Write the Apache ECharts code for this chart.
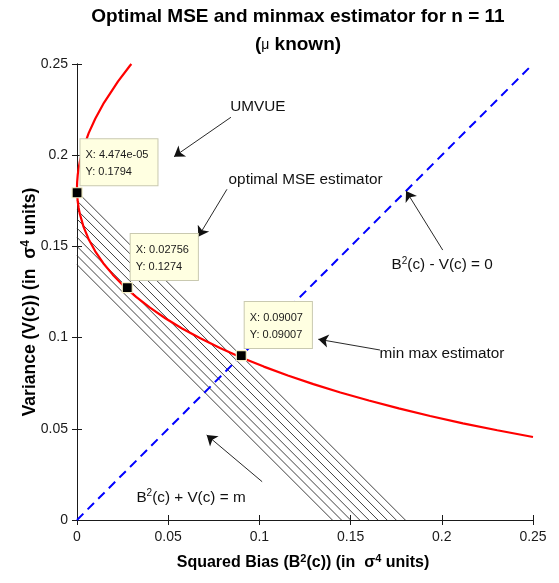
<!DOCTYPE html>
<html>
<head>
<meta charset="utf-8">
<script src="https://cdn.jsdelivr.net/npm/echarts@6/dist/echarts.min.js"></script>
<style>
  html, body { margin: 0; padding: 0; background: #fff; }
  #chart { width: 559px; height: 583px; }
</style>
</head>
<body>
<div id="chart"></div>
<script>
// Squared bias / variance trade-off of c * sum (X - mu)^2, n = 11
const curveBias = [0.0298, 0.0289, 0.0225, 0.0144, 0.0100, 0.0064, 0.0036, 0.0016, 0.0009, 0.0004, 0.0001, 0.000025, 0,
  0.000025, 0.0001, 0.0004, 0.0009, 0.0016, 0.0036, 0.0064, 0.0100, 0.0144, 0.0196, 0.0256, 0.0324, 0.0400,
  0.0484, 0.0576, 0.0676, 0.0784, 0.0900, 0.1024, 0.1156, 0.1296, 0.1444, 0.1600, 0.1764, 0.1936, 0.2116, 0.2304, 0.2500];
const curveVar = [0.2500, 0.2489, 0.2405, 0.2281, 0.2200, 0.2121, 0.2043, 0.1967, 0.1929, 0.1892, 0.1855, 0.1836, 0.1818,
  0.1800, 0.1782, 0.1746, 0.1711, 0.1676, 0.1607, 0.1539, 0.1473, 0.1408, 0.1345, 0.1283, 0.1223, 0.1164,
  0.1106, 0.1050, 0.0996, 0.0943, 0.0891, 0.0841, 0.0792, 0.0745, 0.0699, 0.0655, 0.0612, 0.0570, 0.0530, 0.0492, 0.0455];

// Level lines B^2 + V = m
const levelM = [0.14, 0.145, 0.15, 0.155, 0.16, 0.165, 0.17, 0.175, 0.18];

// B^2 - V = 0 diagonal end points
const diagEnds = [0, 0.25];

// Data tips: UMVUE, optimal MSE, min max
const tipX = [4.474e-05, 0.02756, 0.09007];
const tipY = [0.1794, 0.1274, 0.09007];

// Axis ticks
const axisMin = 0, axisMax = 0.25, axisStep = 0.05;

// Annotation texts (centre positions in data units)
const noteText = ['UMVUE', 'optimal MSE estimator', '{n|B}{s|2}{n|(c) - V(c) = 0}', 'min max estimator', '{n|B}{s|2}{n|(c) + V(c) = m}'];
const noteX = [0.0992, 0.1253, 0.2002, 0.2001, 0.0625];
const noteY = [0.2267, 0.1868, 0.1398, 0.0913, 0.0124];

// Annotation arrows: tail -> head (data units)
const arrowFromX = [0.0844, 0.0822, 0.2005, 0.1661, 0.1015];
const arrowFromY = [0.2208, 0.1813, 0.1480, 0.0932, 0.0210];
const arrowToX = [0.0532, 0.0665, 0.1804, 0.1323, 0.0711];
const arrowToY = [0.1992, 0.1553, 0.1804, 0.0991, 0.0466];

const FONT = '"Liberation Sans", Arial, Helvetica, sans-serif';

function fmtTip(v) {
  if (v !== 0 && Math.abs(v) < 1e-4) {
    return v.toExponential(3).replace(/e([+-])(\d)$/, 'e$10$2');
  }
  return String(v);
}

const chart = echarts.init(document.getElementById('chart'), null, { renderer: 'canvas' });

const axisCommon = {
  type: 'value', min: axisMin, max: axisMax, interval: axisStep,
  splitLine: { show: false },
  axisLine: { show: true, lineStyle: { color: '#1a1a1a', width: 1 } },
  axisTick: { show: true, inside: true, length: 5, lineStyle: { color: '#1a1a1a', width: 1 } }
};
const tickLabel = { color: '#1a1a1a', fontFamily: FONT, fontSize: 14 };

const series = [];

levelM.forEach(function (m) {
  series.push({
    type: 'line', xAxisIndex: 0, yAxisIndex: 0, symbol: 'none', silent: true,
    data: [[0, m], [m, 0]],
    lineStyle: { color: '#2a2a2a', width: 0.9 },
    z: 2
  });
});

series.push({
  type: 'line', name: 'curve', xAxisIndex: 0, yAxisIndex: 0, symbol: 'none', silent: true,
  data: curveBias.map(function (b, i) { return [b, curveVar[i]]; }),
  lineStyle: { color: '#ff0000', width: 2.2 },
  z: 3
});

series.push({
  type: 'line', name: 'diag', xAxisIndex: 0, yAxisIndex: 0, symbol: 'none', silent: true,
  data: diagEnds.map(function (v) { return [v, v]; }),
  lineStyle: { color: '#0000ff', width: 2, type: [9, 6] },
  z: 4
});

series.push({
  type: 'lines', coordinateSystem: 'cartesian2d', xAxisIndex: 0, yAxisIndex: 0, silent: true,
  symbol: ['none', 'arrow'], symbolSize: 10,
  data: arrowFromX.map(function (x, i) {
    return { coords: [[x, arrowFromY[i]], [arrowToX[i], arrowToY[i]]] };
  }),
  lineStyle: { color: '#111', width: 0.9, opacity: 1 },
  z: 5
});

series.push({
  type: 'scatter', xAxisIndex: 0, yAxisIndex: 0, silent: true,
  symbolSize: 1,
  itemStyle: { color: 'transparent', opacity: 1 },
  data: noteX.map(function (x, i) { return { value: [x, noteY[i]], name: noteText[i] }; }),
  label: {
    show: true, position: 'inside', align: 'center', verticalAlign: 'middle',
    formatter: function (p) { return p.name; },
    color: '#111', fontFamily: FONT, fontSize: 15.3,
    rich: {
      n: { color: '#111', fontFamily: FONT, fontSize: 15.3 },
      s: { color: '#111', fontFamily: FONT, fontSize: 10, padding: [0, 0, 8, 0] }
    }
  },
  z: 6
});

series.push({
  type: 'scatter', xAxisIndex: 0, yAxisIndex: 0, silent: true,
  symbol: 'rect', symbolSize: 10,
  itemStyle: { color: '#000', borderColor: '#f5f0c8', borderWidth: 1.2, opacity: 1 },
  data: tipX.map(function (x, i) { return [x, tipY[i]]; }),
  label: {
    show: true, position: [9, -48], align: 'left', verticalAlign: 'top',
    formatter: function (p) { return 'X: ' + fmtTip(p.value[0]) + '\nY: ' + fmtTip(p.value[1]); },
    color: '#1a1a1a', fontFamily: FONT, fontSize: 11, lineHeight: 17,
    backgroundColor: '#ffffe1', borderColor: '#c9c9b0', borderWidth: 1,
    padding: [7, 9, 5, 5]
  },
  z: 7
});

chart.setOption({
  animation: false,
  backgroundColor: '#ffffff',
  title: {
    left: 298, top: 3, textAlign: 'center', padding: 0,
    text: '{t|Optimal MSE and minmax estimator for n = 11}\n{t|(}{m|μ}{t| known)}',
    textStyle: {
      fontFamily: FONT, fontWeight: 'bold', fontSize: 19, color: '#000', lineHeight: 28,
      rich: {
        t: { fontFamily: FONT, fontWeight: 'bold', fontSize: 19, color: '#000', lineHeight: 28 },
        m: { fontFamily: FONT, fontWeight: 'normal', fontSize: 14, color: '#000', lineHeight: 28 }
      }
    }
  },
  grid: { left: 77, top: 64, width: 456, height: 456, containLabel: false },
  xAxis: [
    Object.assign({}, axisCommon, {
      position: 'bottom',
      axisLabel: Object.assign({ margin: 10 }, tickLabel),
      name: '{b|Squared Bias (B}{s|2}{b|(c)) (in  σ}{s|4}{b| units)}',
      nameLocation: 'middle', nameGap: 33,
      nameTextStyle: {
        padding: [0, 4, 0, 0],
        rich: {
          b: { fontFamily: FONT, fontWeight: 'bold', fontSize: 16, color: '#000' },
          s: { fontFamily: FONT, fontWeight: 'bold', fontSize: 11, color: '#000', padding: [0, 0, 8, 0] }
        }
      }
    }),
    Object.assign({}, axisCommon, { position: 'top', axisLabel: { show: false } })
  ],
  yAxis: [
    Object.assign({}, axisCommon, {
      position: 'left',
      axisLabel: Object.assign({ margin: 9 }, tickLabel),
      name: '{b|Variance (V(c)) (in  σ}{s|4}{b| units)}',
      nameLocation: 'middle', nameGap: 36, nameRotate: 90, nameMoveOverlap: false,
      nameTextStyle: {
        padding: [0, 20, 0, 0],
        rich: {
          b: { fontFamily: FONT, fontWeight: 'bold', fontSize: 17.5, color: '#000' },
          s: { fontFamily: FONT, fontWeight: 'bold', fontSize: 12, color: '#000', padding: [0, 0, 9, 0] }
        }
      }
    }),
    Object.assign({}, axisCommon, { position: 'right', axisLabel: { show: false } })
  ],
  series: series
});
</script>
</body>
</html>
